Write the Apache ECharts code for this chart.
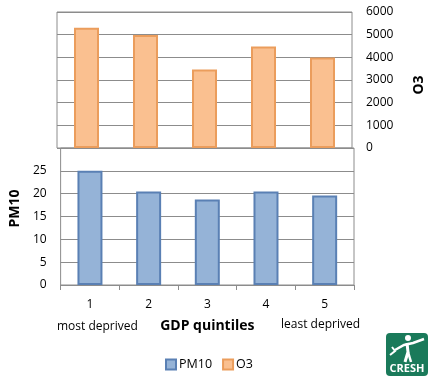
<!DOCTYPE html>
<html><head><meta charset="utf-8">
<script src="https://cdn.jsdelivr.net/npm/echarts@6/dist/echarts.min.js"></script>
<style>html,body{margin:0;padding:0;background:#fff}#c{width:434px;height:382px}</style>
</head><body><div id="c"></div>
<script>
var categories = ['1', '2', '3', '4', '5'];
var pm10 = [25.0, 20.5, 18.7, 20.5, 19.6];
var o3 = [5300, 4980, 3460, 4480, 3990];
var pmTicks = [0, 5, 10, 15, 20, 25];
var o3Ticks = [0, 1000, 2000, 3000, 4000, 5000, 6000];

var FONT = 'Open Sans';
var GRID = '#8c8c8c';
var chart = echarts.init(document.getElementById('c'));
chart.setOption({
  animation: false,
  textStyle: {fontFamily: FONT, color: '#000'},
  grid: [
    {left: 57, width: 297, top: 12, height: 136, show: true, borderColor: GRID, borderWidth: 1},
    {left: 57, width: 297, top: 148, height: 137, show: true, borderColor: GRID, borderWidth: 1}
  ],
  legend: {
    top: 353, left: 160, itemWidth: 10, itemHeight: 10, itemGap: 10,
    icon: 'rect',
    textStyle: {fontFamily: FONT, fontSize: 12.5, color: '#000', padding: [0, 0, 0, -2]},
    data: ['PM10', 'O3']
  },
  xAxis: [
    {gridIndex: 0, type: 'category', data: categories, show: false},
    {gridIndex: 1, type: 'category', data: categories,
     axisLine: {lineStyle: {color: GRID}},
     axisTick: {show: true, length: 5, lineStyle: {color: GRID}},
     axisLabel: {color: '#000', fontSize: 12, margin: 14},
     name: 'GDP quintiles', nameLocation: 'middle', nameGap: 34,
     nameTextStyle: {fontFamily: FONT, fontWeight: 'bold', fontSize: 14, color: '#000'}}
  ],
  yAxis: [
    {gridIndex: 0, type: 'value', position: 'right', min: 0, max: 6000, interval: 1000,
     axisLine: {show: false}, axisTick: {show: false},
     axisLabel: {color: '#000', fontSize: 12, margin: 14,
       formatter: function (v) { return o3Ticks.indexOf(v) >= 0 ? String(v) : ''; }},
     splitLine: {lineStyle: {color: GRID}},
     name: 'O3', nameLocation: 'middle', nameRotate: 90, nameGap: 60,
     nameTextStyle: {fontFamily: FONT, fontWeight: 'bold', fontSize: 14, color: '#000', padding: [0, 10, 0, 0]}},
    {gridIndex: 1, type: 'value', position: 'left', min: 0, max: 30, interval: 5,
     axisLine: {show: false}, axisTick: {show: false},
     axisLabel: {color: '#000', fontSize: 12, margin: 14,
       formatter: function (v) { return pmTicks.indexOf(v) >= 0 ? String(v) : ''; }},
     splitLine: {lineStyle: {color: GRID}},
     name: 'PM10', nameLocation: 'middle', nameRotate: 90, nameGap: 36,
     nameTextStyle: {fontFamily: FONT, fontWeight: 'bold', fontSize: 14, color: '#000', padding: [0, 0, 0, 16]}}
  ],
  series: [
    {name: 'PM10', type: 'bar', xAxisIndex: 1, yAxisIndex: 1, data: pm10, barWidth: 25,
     itemStyle: {color: '#95b3d7', borderColor: '#5a80b4', borderWidth: 2}},
    {name: 'O3', type: 'bar', xAxisIndex: 0, yAxisIndex: 0, data: o3, barWidth: 25,
     itemStyle: {color: '#fac090', borderColor: '#eb9d5c', borderWidth: 2}}
  ],
  graphic: [
    {type: 'text', left: 57, top: 321, style: {text: 'most deprived', fontFamily: FONT, fontSize: 12, fill: '#000'}},
    {type: 'text', left: 281, top: 319, style: {text: 'least deprived', fontFamily: FONT, fontSize: 12, fill: '#000'}},
    {type: 'group', left: 386, top: 333, children: [
      {type: 'rect', shape: {x: 0, y: 0, width: 42, height: 43, r: 4}, style: {fill: '#1a7a5a'}},
      {type: 'circle', shape: {cx: 22, cy: 5, r: 3}, style: {fill: '#fff'}},
      {type: 'polyline', shape: {points: [[9, 17], [18, 12], [27, 10], [38, 6]]}, style: {stroke: '#fff', lineWidth: 2.5, fill: null}},
      {type: 'polyline', shape: {points: [[21, 10], [22, 19], [19, 29]]}, style: {stroke: '#fff', lineWidth: 3, fill: null}},
      {type: 'polyline', shape: {points: [[22, 19], [25, 29]]}, style: {stroke: '#fff', lineWidth: 2.5, fill: null}},
      {type: 'polyline', shape: {points: [[4, 22], [9, 18], [6, 14]]}, style: {stroke: '#fff', lineWidth: 2, fill: null}},
      {type: 'text', x: 21, y: 36, style: {text: 'CRESH', fontFamily: FONT, fontWeight: 'bold', fontSize: 11, fill: '#fff', align: 'center', verticalAlign: 'middle'}}
    ]}
  ]
});
</script></body></html>
